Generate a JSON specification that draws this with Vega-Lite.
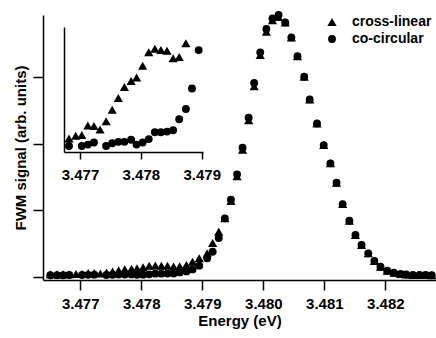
{
  "$schema": "https://vega.github.io/schema/vega-lite/v6.json",
  "width": 393,
  "height": 265,
  "autosize": {"type": "none"},
  "padding": {"left": 43, "top": 15, "right": 0, "bottom": 58},
  "background": "white",
  "config": {
    "view": {"stroke": null},
    "font": "Liberation Sans",
    "axis": {
      "grid": false,
      "domainColor": "black",
      "domainWidth": 1.5,
      "tickColor": "black",
      "tickWidth": 1.5,
      "tickSize": 10,
      "labelColor": "black",
      "labelFont": "Liberation Sans",
      "labelFontSize": 15,
      "labelFontWeight": "bold",
      "titleColor": "black",
      "titleFont": "Liberation Sans",
      "titleFontSize": 15,
      "titleFontWeight": "bold"
    },
    "legend": {
      "labelFont": "Liberation Sans",
      "labelFontSize": 14,
      "labelFontWeight": "bold",
      "labelColor": "black"
    }
  },
  "data": {
    "values": [
      {"E": 3.47651, "s": 0.040, "series": "cross-linear"},
      {"E": 3.47662, "s": 0.042, "series": "cross-linear"},
      {"E": 3.47672, "s": 0.041, "series": "cross-linear"},
      {"E": 3.47682, "s": 0.041, "series": "cross-linear"},
      {"E": 3.47693, "s": 0.045, "series": "cross-linear"},
      {"E": 3.47703, "s": 0.046, "series": "cross-linear"},
      {"E": 3.47713, "s": 0.060, "series": "cross-linear"},
      {"E": 3.47723, "s": 0.059, "series": "cross-linear"},
      {"E": 3.47733, "s": 0.054, "series": "cross-linear"},
      {"E": 3.47743, "s": 0.066, "series": "cross-linear"},
      {"E": 3.47753, "s": 0.083, "series": "cross-linear"},
      {"E": 3.47763, "s": 0.100, "series": "cross-linear"},
      {"E": 3.47773, "s": 0.116, "series": "cross-linear"},
      {"E": 3.47784, "s": 0.125, "series": "cross-linear"},
      {"E": 3.47793, "s": 0.130, "series": "cross-linear"},
      {"E": 3.47803, "s": 0.147, "series": "cross-linear"},
      {"E": 3.47813, "s": 0.167, "series": "cross-linear"},
      {"E": 3.47823, "s": 0.172, "series": "cross-linear"},
      {"E": 3.47833, "s": 0.170, "series": "cross-linear"},
      {"E": 3.47843, "s": 0.169, "series": "cross-linear"},
      {"E": 3.47853, "s": 0.158, "series": "cross-linear"},
      {"E": 3.47863, "s": 0.160, "series": "cross-linear"},
      {"E": 3.47874, "s": 0.180, "series": "cross-linear"},
      {"E": 3.47884, "s": 0.230, "series": "cross-linear"},
      {"E": 3.47895, "s": 0.280, "series": "cross-linear"},
      {"E": 3.47908, "s": 0.355, "series": "cross-linear"},
      {"E": 3.47917, "s": 0.510, "series": "cross-linear"},
      {"E": 3.47927, "s": 0.679, "series": "cross-linear"},
      {"E": 3.47937, "s": 0.880, "series": "cross-linear"},
      {"E": 3.47947, "s": 1.140, "series": "cross-linear"},
      {"E": 3.47957, "s": 1.510, "series": "cross-linear"},
      {"E": 3.47966, "s": 1.910, "series": "cross-linear"},
      {"E": 3.47976, "s": 2.350, "series": "cross-linear"},
      {"E": 3.47985, "s": 2.860, "series": "cross-linear"},
      {"E": 3.47995, "s": 3.330, "series": "cross-linear"},
      {"E": 3.48005, "s": 3.680, "series": "cross-linear"},
      {"E": 3.48015, "s": 3.850, "series": "cross-linear"},
      {"E": 3.48025, "s": 3.900, "series": "cross-linear"},
      {"E": 3.48036, "s": 3.819, "series": "cross-linear"},
      {"E": 3.48046, "s": 3.594, "series": "cross-linear"},
      {"E": 3.48056, "s": 3.313, "series": "cross-linear"},
      {"E": 3.48067, "s": 3.003, "series": "cross-linear"},
      {"E": 3.48076, "s": 2.664, "series": "cross-linear"},
      {"E": 3.48088, "s": 2.304, "series": "cross-linear"},
      {"E": 3.48099, "s": 1.979, "series": "cross-linear"},
      {"E": 3.48110, "s": 1.705, "series": "cross-linear"},
      {"E": 3.48120, "s": 1.414, "series": "cross-linear"},
      {"E": 3.48130, "s": 1.094, "series": "cross-linear"},
      {"E": 3.48141, "s": 0.844, "series": "cross-linear"},
      {"E": 3.48151, "s": 0.630, "series": "cross-linear"},
      {"E": 3.48161, "s": 0.480, "series": "cross-linear"},
      {"E": 3.48172, "s": 0.355, "series": "cross-linear"},
      {"E": 3.48182, "s": 0.240, "series": "cross-linear"},
      {"E": 3.48192, "s": 0.154, "series": "cross-linear"},
      {"E": 3.48203, "s": 0.094, "series": "cross-linear"},
      {"E": 3.48214, "s": 0.064, "series": "cross-linear"},
      {"E": 3.48225, "s": 0.045, "series": "cross-linear"},
      {"E": 3.48234, "s": 0.037, "series": "cross-linear"},
      {"E": 3.48245, "s": 0.030, "series": "cross-linear"},
      {"E": 3.48256, "s": 0.030, "series": "cross-linear"},
      {"E": 3.48266, "s": 0.030, "series": "cross-linear"},
      {"E": 3.48276, "s": 0.027, "series": "cross-linear"},
      {"E": 3.47651, "s": 0.026, "series": "co-circular"},
      {"E": 3.47662, "s": 0.028, "series": "co-circular"},
      {"E": 3.47672, "s": 0.027, "series": "co-circular"},
      {"E": 3.47682, "s": 0.030, "series": "co-circular"},
      {"E": 3.47703, "s": 0.030, "series": "co-circular"},
      {"E": 3.47713, "s": 0.032, "series": "co-circular"},
      {"E": 3.47723, "s": 0.035, "series": "co-circular"},
      {"E": 3.47743, "s": 0.030, "series": "co-circular"},
      {"E": 3.47753, "s": 0.034, "series": "co-circular"},
      {"E": 3.47763, "s": 0.036, "series": "co-circular"},
      {"E": 3.47773, "s": 0.036, "series": "co-circular"},
      {"E": 3.47784, "s": 0.039, "series": "co-circular"},
      {"E": 3.47793, "s": 0.032, "series": "co-circular"},
      {"E": 3.47803, "s": 0.035, "series": "co-circular"},
      {"E": 3.47813, "s": 0.040, "series": "co-circular"},
      {"E": 3.47823, "s": 0.050, "series": "co-circular"},
      {"E": 3.47833, "s": 0.050, "series": "co-circular"},
      {"E": 3.47843, "s": 0.051, "series": "co-circular"},
      {"E": 3.47853, "s": 0.053, "series": "co-circular"},
      {"E": 3.47863, "s": 0.069, "series": "co-circular"},
      {"E": 3.47874, "s": 0.084, "series": "co-circular"},
      {"E": 3.47884, "s": 0.114, "series": "co-circular"},
      {"E": 3.47895, "s": 0.170, "series": "co-circular"},
      {"E": 3.47908, "s": 0.280, "series": "co-circular"},
      {"E": 3.47917, "s": 0.379, "series": "co-circular"},
      {"E": 3.47927, "s": 0.585, "series": "co-circular"},
      {"E": 3.47937, "s": 0.880, "series": "co-circular"},
      {"E": 3.47947, "s": 1.160, "series": "co-circular"},
      {"E": 3.47957, "s": 1.540, "series": "co-circular"},
      {"E": 3.47966, "s": 1.940, "series": "co-circular"},
      {"E": 3.47976, "s": 2.390, "series": "co-circular"},
      {"E": 3.47985, "s": 2.910, "series": "co-circular"},
      {"E": 3.47995, "s": 3.370, "series": "co-circular"},
      {"E": 3.48005, "s": 3.720, "series": "co-circular"},
      {"E": 3.48015, "s": 3.880, "series": "co-circular"},
      {"E": 3.48025, "s": 3.930, "series": "co-circular"},
      {"E": 3.48036, "s": 3.819, "series": "co-circular"},
      {"E": 3.48046, "s": 3.594, "series": "co-circular"},
      {"E": 3.48056, "s": 3.313, "series": "co-circular"},
      {"E": 3.48067, "s": 3.003, "series": "co-circular"},
      {"E": 3.48076, "s": 2.664, "series": "co-circular"},
      {"E": 3.48088, "s": 2.304, "series": "co-circular"},
      {"E": 3.48099, "s": 1.979, "series": "co-circular"},
      {"E": 3.48110, "s": 1.705, "series": "co-circular"},
      {"E": 3.48120, "s": 1.414, "series": "co-circular"},
      {"E": 3.48130, "s": 1.094, "series": "co-circular"},
      {"E": 3.48141, "s": 0.844, "series": "co-circular"},
      {"E": 3.48151, "s": 0.630, "series": "co-circular"},
      {"E": 3.48161, "s": 0.480, "series": "co-circular"},
      {"E": 3.48172, "s": 0.355, "series": "co-circular"},
      {"E": 3.48182, "s": 0.240, "series": "co-circular"},
      {"E": 3.48192, "s": 0.154, "series": "co-circular"},
      {"E": 3.48203, "s": 0.094, "series": "co-circular"},
      {"E": 3.48214, "s": 0.064, "series": "co-circular"},
      {"E": 3.48225, "s": 0.045, "series": "co-circular"},
      {"E": 3.48234, "s": 0.037, "series": "co-circular"},
      {"E": 3.48245, "s": 0.030, "series": "co-circular"},
      {"E": 3.48256, "s": 0.030, "series": "co-circular"},
      {"E": 3.48266, "s": 0.030, "series": "co-circular"},
      {"E": 3.48276, "s": 0.027, "series": "co-circular"}
    ]
  },
  "layer": [
    {
      "mark": {"type": "point", "filled": true, "opacity": 1, "color": "black"},
      "encoding": {
        "x": {
          "field": "E", "type": "quantitative",
          "scale": {"domain": [3.47639, 3.48283], "nice": false, "zero": false},
          "axis": {"values": [3.477, 3.478, 3.479, 3.48, 3.481, 3.482], "format": ".3f", "labelPadding": 6, "title": "Energy (eV)", "titlePadding": 2, "labelFlush": false}
        },
        "y": {
          "field": "s", "type": "quantitative",
          "scale": {"domain": [-0.045, 3.93], "nice": false, "zero": false},
          "axis": {"values": [0, 1, 2, 3], "labels": false, "title": "FWM signal (arb. units)", "titlePadding": 4}
        },
        "shape": {
          "field": "series", "type": "nominal",
          "scale": {"domain": ["cross-linear", "co-circular"], "range": ["triangle-up", "circle"]},
          "legend": {"title": null, "orient": "none", "legendX": 282, "legendY": 0, "padding": 0, "symbolFillColor": "black", "symbolStrokeColor": "black", "labelOffset": 13, "rowPadding": 3}
        },
        "size": {
          "field": "series", "type": "nominal",
          "scale": {"domain": ["cross-linear", "co-circular"], "range": [85, 62]},
          "legend": {"title": null, "orient": "none", "legendX": 282, "legendY": 0, "padding": 0, "symbolFillColor": "black", "symbolStrokeColor": "black", "labelOffset": 13, "rowPadding": 3}
        }
      }
    },
    {
      "transform": [{"filter": "datum.E >= 3.47676 && datum.E <= 3.479 && datum.s <= 0.2037"}],
      "mark": {"type": "point", "filled": true, "opacity": 1, "color": "black"},
      "encoding": {
        "x": {
          "field": "E", "type": "quantitative",
          "scale": {"domain": [3.476738, 3.479021], "range": [21, 160], "nice": false, "zero": false},
          "axis": {"orient": "bottom", "offset": -128, "values": [3.477, 3.478, 3.479], "format": ".3f", "tickSize": 7, "labelPadding": 8, "title": null, "labelFlush": false}
        },
        "y": {
          "field": "s", "type": "quantitative",
          "scale": {"domain": [0.0212, 0.2037], "range": [137, 12], "nice": false, "zero": false},
          "axis": {"orient": "left", "offset": -21, "ticks": false, "labels": false, "title": null}
        },
        "shape": {"field": "series", "type": "nominal"},
        "size": {"field": "series", "type": "nominal"}
      }
    }
  ],
  "resolve": {"scale": {"x": "independent", "y": "independent"}}
}
